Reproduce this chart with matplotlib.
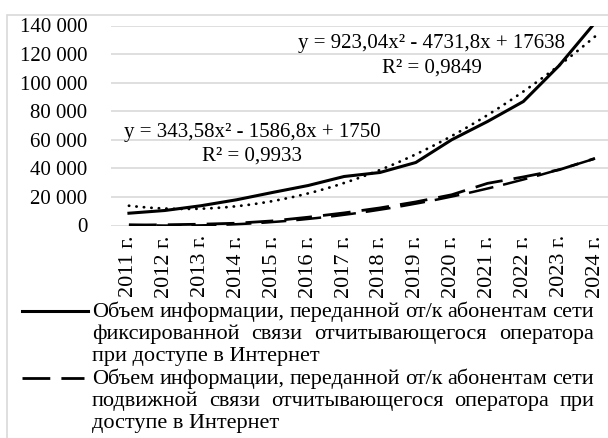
import numpy as np
import matplotlib
matplotlib.use("Agg")
import matplotlib.pyplot as plt
from matplotlib.lines import Line2D
from matplotlib.patches import Rectangle

W, H = 608, 438
FONT = "Liberation Serif"
FS = 16       # подписи оси X и легенда
FS_SMALL = 15 # ось Y и уравнения трендов

# ─── данные ───────────────────────────────────────────────────────────────
years = ["2011 г.", "2012 г.", "2013 г.", "2014 г.", "2015 г.", "2016 г.", "2017 г.",
         "2018 г.", "2019 г.", "2020 г.", "2021 г.", "2022 г.", "2023 г.", "2024 г."]
fixed = [8600, 10500, 13800, 18000, 23100, 28000, 34300,
         37100, 44100, 60000, 72800, 86800, 112000, 142000]
mobile = [300, 500, 900, 1600, 3200, 5800, 8800,
          12300, 16500, 21500, 29500, 34000, 39000, 47000]
# коэффициенты полиномиальных трендов (как на диаграмме)
trend_fixed = [923.04, -4731.8, 17638]
trend_mobile = [343.58, -1586.8, 1750]
eq_fixed = ["y = 923,04x² - 4731,8x + 17638", "R² = 0,9849"]
eq_mobile = ["y = 343,58x² - 1586,8x + 1750", "R² = 0,9933"]
yticks = [0, 20000, 40000, 60000, 80000, 100000, 120000, 140000]
leg_fixed = [("Объем информации, переданной от/к абонентам сети", True),
             ("фиксированной связи отчитывающегося оператора", True),
             ("при доступе в Интернет", False)]
leg_mobile = [("Объем информации, переданной от/к абонентам сети", True),
              ("подвижной связи отчитывающегося оператора при", True),
              ("доступе в Интернет", False)]

plt.rcParams["font.family"] = FONT


def px(x, y):
    return x / W, 1 - y / H


fig = plt.figure(figsize=(W / 100, H / 100), dpi=100)
fig.add_artist(Rectangle(px(7, 460), 1.2, (460 - 15) / H, transform=fig.transFigure,
                         fill=False, edgecolor="#d9d9d9", linewidth=1.2))

ax = fig.add_axes([111 / W, 1 - 225.5 / H, 502 / W, 200 / H])
x = np.arange(len(years))
ax.plot(x, fixed, color="black", lw=2.2, solid_joinstyle="round")
ax.plot(x, mobile, color="black", lw=2.0, linestyle=(0, (10, 4)))

xs = np.linspace(0, len(years) - 1, 300)
ax.plot(xs, np.polyval(trend_fixed, xs + 1), color="black", lw=2.0,
        linestyle=(0, (0.1, 2.6)), dash_capstyle="round")
ax.plot(xs, np.polyval(trend_mobile, xs + 1), color="black", lw=1.8,
        linestyle=(3, (10, 4)))

ax.set_xlim(-0.5, len(years) - 0.5)
ax.set_ylim(0, 140000)
ax.set_yticks(yticks)
ax.set_yticklabels([f"{v:,}".replace(",", " ") for v in yticks], fontsize=FS_SMALL)
ax.set_xticks(x)
ax.set_xticklabels(years, rotation=90, fontsize=FS, va="top", ha="center")
ax.tick_params(length=0)
ax.tick_params(axis="y", pad=17)
ax.tick_params(axis="x", pad=7)
ax.grid(axis="y", color="#d9d9d9", lw=1.2)
ax.set_axisbelow(True)
for s in ax.spines.values():
    s.set_visible(False)

# уравнения трендов
fig.text(*px(432, 48), eq_fixed[0], ha="center", va="baseline", fontsize=FS_SMALL)
fig.text(*px(432, 73), eq_fixed[1], ha="center", va="baseline", fontsize=FS_SMALL)
fig.text(*px(252, 137), eq_mobile[0], ha="center", va="baseline", fontsize=FS_SMALL)
fig.text(*px(252, 161), eq_mobile[1], ha="center", va="baseline", fontsize=FS_SMALL)

# легенда (выровненный по ширине текст)
fig.add_artist(Line2D([22 / W, 88 / W], [1 - 311 / H] * 2, color="black", lw=2.2))
fig.add_artist(Line2D([22 / W, 84 / W], [1 - 378 / H] * 2, color="black", lw=2.0,
                      linestyle=(0, (10, 4))))

renderer = fig.canvas.get_renderer()
L, R = 92, 594


def put_line(text, y, justify):
    if not justify:
        fig.text(*px(L, y), text, ha="left", va="baseline", fontsize=FS)
        return
    words = text.split()
    arts = [fig.text(0, 0, w, ha="left", va="baseline", fontsize=FS) for w in words]
    widths = [a.get_window_extent(renderer).width for a in arts]
    gap = (R - L - sum(widths)) / (len(words) - 1)
    xpos = L
    for a, w in zip(arts, widths):
        a.set_position(px(xpos, y))
        xpos += w + gap


base = 317
for i, (t, j) in enumerate(leg_fixed + leg_mobile):
    put_line(t, base + i * 22.2, j)

fig.savefig("out.png", dpi=100)
